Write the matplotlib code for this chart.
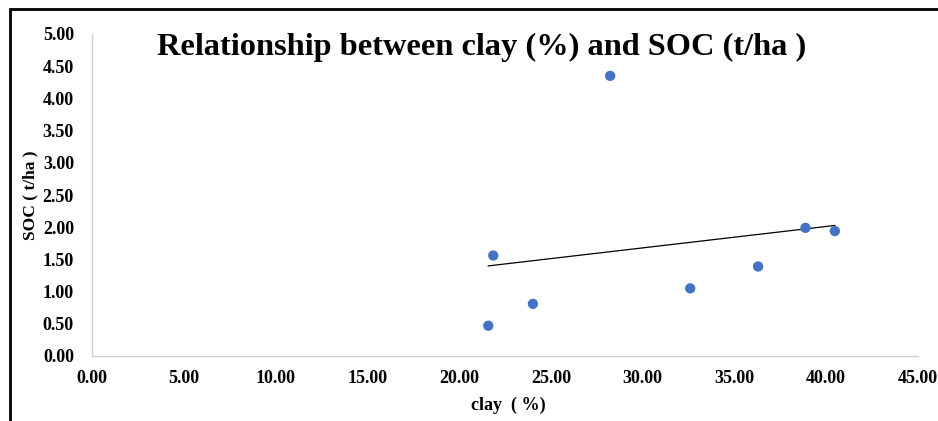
import matplotlib.pyplot as plt
import matplotlib.patches as patches
import numpy as np

# clay (%) vs SOC (t/ha)
clay = [21.86, 21.59, 24.02, 28.23, 32.59, 36.29, 38.87, 40.47]
soc = [1.56, 0.47, 0.81, 4.35, 1.05, 1.39, 1.99, 1.94]

xticks = [0, 5, 10, 15, 20, 25, 30, 35, 40, 45]
yticks = [0, 0.5, 1, 1.5, 2, 2.5, 3, 3.5, 4, 4.5, 5]

plt.rcParams['font.family'] = ['Liberation Serif', 'DejaVu Serif']

fig = plt.figure(figsize=(9.38, 4.21), dpi=100)
ax = fig.add_axes([92/938, 1-356/421, (918-92)/938, (356-34)/421])

ax.scatter(clay, soc, s=55, color='#4472C4', zorder=3, edgecolors='none')

# linear trendline
m, b = np.polyfit(clay, soc, 1)
tx = np.array([min(clay), max(clay)])
ax.plot(tx, m*tx + b, color='black', lw=0.9, zorder=2)

ax.set_xlim(0, 45)
ax.set_ylim(0, 5)
ax.set_xticks(xticks)
ax.set_yticks(yticks)
ax.set_xticklabels(['%.2f' % v for v in xticks], fontweight='bold', fontsize=13)
ax.set_yticklabels(['%.2f' % v for v in yticks], fontweight='bold', fontsize=13)
ax.tick_params(axis='y', length=0, pad=13)
ax.tick_params(axis='x', length=0, pad=10)

for s in ['top', 'right']:
    ax.spines[s].set_visible(False)
for s in ['left', 'bottom']:
    ax.spines[s].set_color('#d0d0d0')
    ax.spines[s].set_linewidth(1)

fig.text(482/938, 1-47/421, 'Relationship between clay (%) and SOC (t/ha )',
         ha='center', va='center', fontsize=23.3, fontweight='bold')
fig.text(508/938, 1-405/421, 'clay  ( %)', ha='center', va='center',
         fontsize=13, fontweight='bold')
fig.text(30/938, 1-195/421, 'SOC ( t/ha )', ha='center', va='center',
         fontsize=12.5, fontweight='bold', rotation=90)

# outer chart border (extends past the right and bottom edges)
fig.patches.append(patches.Rectangle((10/938, -0.1), 1.0, 1-9/421+0.1,
                                     transform=fig.transFigure, fill=False,
                                     edgecolor='black', lw=2))

fig.savefig('out.png', dpi=100)
